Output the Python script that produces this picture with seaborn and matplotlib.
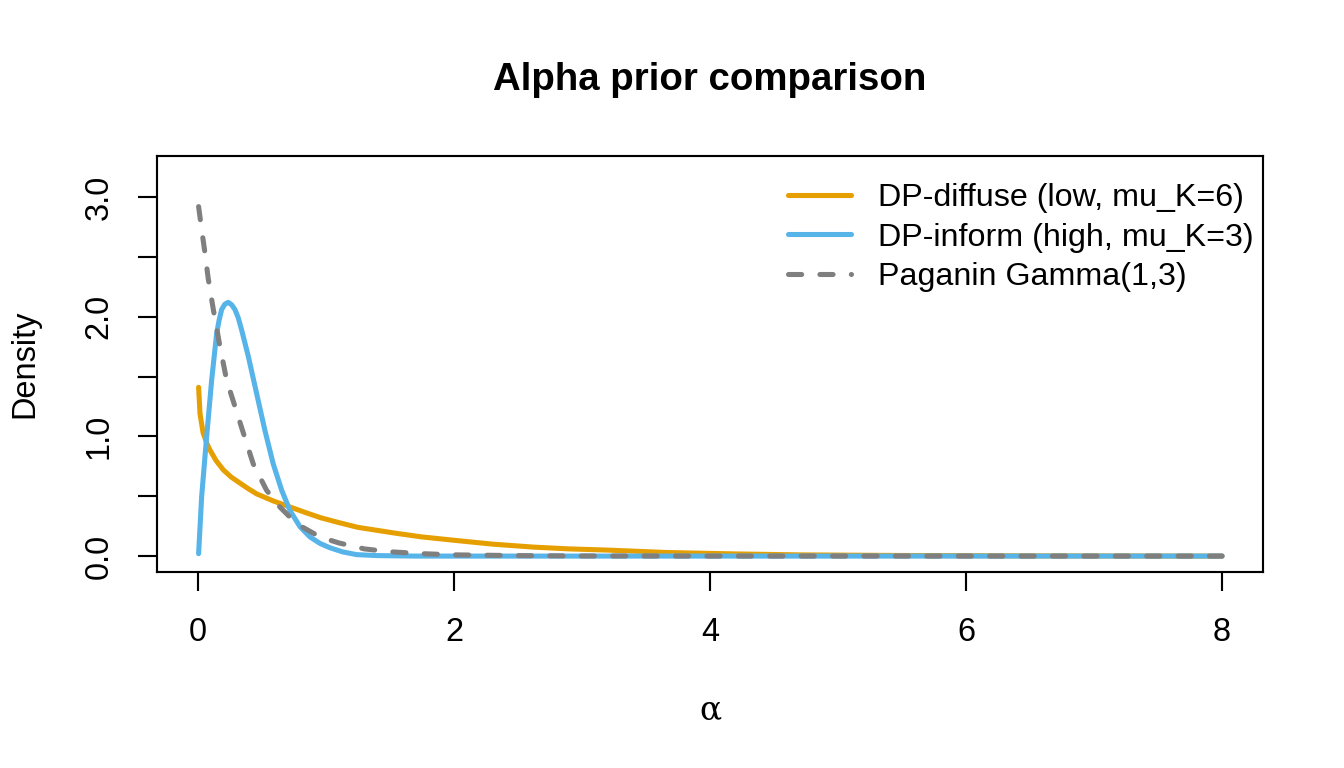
import pandas as pd
import matplotlib
matplotlib.use("Agg")
import matplotlib.pyplot as plt
import seaborn as sns

# values
diffuse_x = [0.005, 0.016, 0.04, 0.07, 0.094, 0.14, 0.198, 0.26, 0.328, 0.39, 0.458, 0.59,
             0.72, 0.85, 0.96, 1.1, 1.25, 1.4, 1.55, 1.75, 2.02, 2.3, 2.62, 2.9, 3.2, 3.66,
             4.2, 4.7, 5.5, 6.5, 8.0]
diffuse_y = [1.41, 1.19, 1.03, 0.94, 0.886, 0.80, 0.72, 0.66, 0.61, 0.565, 0.52, 0.46,
             0.41, 0.36, 0.32, 0.28, 0.24, 0.215, 0.19, 0.16, 0.13, 0.10, 0.075, 0.06, 0.05,
             0.03, 0.018, 0.01, 0.005, 0.002, 0.0]

inform_x = [0.005, 0.029, 0.068, 0.107, 0.146, 0.165, 0.185, 0.21, 0.237, 0.263, 0.289,
            0.315, 0.341, 0.393, 0.458, 0.523, 0.588, 0.654, 0.719, 0.797, 0.875, 0.953,
            1.03, 1.13, 1.24, 1.4, 1.7, 2.5, 4.0, 8.0]
inform_y = [0.02, 0.50, 1.00, 1.47, 1.86, 1.97, 2.06, 2.105, 2.12, 2.10, 2.06,
            1.99, 1.89, 1.67, 1.36, 1.05, 0.77, 0.55, 0.38, 0.245, 0.16, 0.106,
            0.07, 0.035, 0.012, 0.004, 0.0, 0.0, 0.0, 0.0]

gamma_x = [0.005, 0.03, 0.055, 0.08, 0.12, 0.172, 0.224, 0.289, 0.354, 0.432, 0.536, 0.64,
           0.77, 0.953, 1.1, 1.3, 1.5, 1.75, 2.02, 2.5, 3.0, 4.0, 6.0, 8.0]
gamma_y = [2.92, 2.72, 2.53, 2.32, 2.06, 1.75, 1.47, 1.25, 1.03, 0.77, 0.55, 0.41,
           0.27, 0.16, 0.11, 0.06, 0.036, 0.02, 0.01, 0.004, 0.001, 0.0, 0.0, 0.0]

labels = ["DP-diffuse (low, mu_K=6)", "DP-inform (high, mu_K=3)", "Paganin Gamma(1,3)"]
colors = ["#E69F00", "#56B4E9", "#7F7F7F"]

df = pd.concat([
    pd.DataFrame({"alpha": diffuse_x, "density": diffuse_y, "prior": labels[0]}),
    pd.DataFrame({"alpha": inform_x, "density": inform_y, "prior": labels[1]}),
    pd.DataFrame({"alpha": gamma_x, "density": gamma_y, "prior": labels[2]}),
])

sns.set_theme(style="ticks")
plt.rcParams["font.family"] = ["Liberation Sans", "DejaVu Sans"]
plt.rcParams["text.color"] = "black"

fig = plt.figure(figsize=(7, 4), dpi=192)
ax = fig.add_axes([157 / 1344, 1 - 572 / 768, (1263 - 157) / 1344, (572 - 156) / 768])

lw = 1.9
sns.lineplot(data=df, x="alpha", y="density", hue="prior", style="prior",
             palette=dict(zip(labels, colors)),
             dashes={labels[0]: "", labels[1]: "", labels[2]: (2.6, 3.6)},
             linewidth=lw, ax=ax, legend=True, sort=False)
for ln in ax.lines:
    ln.set_solid_capstyle("round")
    ln.set_solid_joinstyle("round")
    ln.set_dash_capstyle("round")

ax.set_xlim(-0.32, 8.32)
ax.set_ylim(-0.133, 3.343)
ax.set_xticks([0, 2, 4, 6, 8])
ax.set_xticklabels(["0", "2", "4", "6", "8"])
ax.set_yticks([0, 0.5, 1, 1.5, 2, 2.5, 3])
ax.set_yticklabels(["0.0", "", "1.0", "", "2.0", "", "3.0"], rotation=90, va="center")
ax.tick_params(axis="both", length=7, width=0.8, labelsize=12.2, color="black",
               labelcolor="black")
ax.tick_params(axis="x", pad=10)
ax.tick_params(axis="y", pad=9)
for s in ax.spines.values():
    s.set_color("black")
    s.set_linewidth(0.8)
ax.set_xlabel("")
ax.set_ylabel("")

handles, _ = ax.get_legend_handles_labels()
for h in handles:
    h.set_linewidth(lw)
    h.set_solid_capstyle("round")
    h.set_dash_capstyle("round")
ax.legend(handles, labels, loc="upper left", frameon=False, fontsize=12.1,
          bbox_to_anchor=(788 / 1344, 1 - 183 / 768), bbox_transform=fig.transFigure,
          borderpad=0, borderaxespad=0, handlelength=1.95, handletextpad=0.85,
          labelspacing=0.3)

mid = (157 + 1263) / 2 / 1344
fig.text(mid, 1 - 80 / 768, "Alpha prior comparison", ha="center", va="center",
         fontsize=14.4, fontweight="bold", color="black")
fig.text(mid, 1 - 710 / 768, "α", ha="center", va="center", fontsize=12.3,
         family="DejaVu Serif", color="black")
fig.text(25 / 1344, 1 - 364 / 768, "Density", ha="center", va="center", fontsize=12.2,
         rotation=90, color="black")

fig.savefig("out.png", dpi=192)
